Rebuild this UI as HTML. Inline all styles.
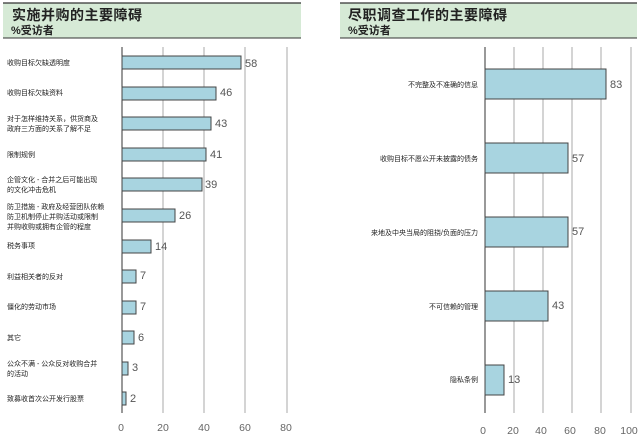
<!DOCTYPE html>
<html><head><meta charset="utf-8"><style>
body{margin:0;width:640px;height:440px;background:#fff;overflow:hidden}
svg text{font-family:"Liberation Sans","Noto Sans CJK SC",sans-serif}
.c{font-family:"Noto Serif CJK SC","Noto Sans CJK SC",serif;font-size:7px;fill:#222}
.v{font-size:11px;fill:#555}
.t{font-size:10.5px;fill:#666}
</style></head><body>
<svg width="640" height="440" xmlns="http://www.w3.org/2000/svg">
<rect x="3" y="3" width="298" height="35" fill="#d6ead6"/>
<line x1="3" y1="3" x2="301" y2="3" stroke="#333" stroke-width="1.2"/>
<line x1="3" y1="38" x2="301" y2="38" stroke="#333" stroke-width="1"/>
<text x="12" y="20" font-family="Noto Serif CJK SC,serif" font-size="14" letter-spacing="0.5" font-weight="bold" fill="#222">实施并购的主要障碍</text>
<text x="11" y="34" font-family="Noto Serif CJK SC,serif" font-size="11" font-weight="bold" fill="#222">%受访者</text>
<rect x="340" y="3" width="297" height="35" fill="#d6ead6"/>
<line x1="340" y1="3" x2="637" y2="3" stroke="#333" stroke-width="1.2"/>
<line x1="340" y1="38" x2="637" y2="38" stroke="#333" stroke-width="1"/>
<text x="348" y="20" font-family="Noto Serif CJK SC,serif" font-size="14" letter-spacing="0.5" font-weight="bold" fill="#222">尽职调查工作的主要障碍</text>
<text x="348" y="34" font-family="Noto Serif CJK SC,serif" font-size="11" font-weight="bold" fill="#222">%受访者</text>
<g stroke="#aaa" stroke-width="1">
<line x1="163" y1="47" x2="163" y2="413"/><line x1="204" y1="47" x2="204" y2="413"/><line x1="245" y1="47" x2="245" y2="413"/><line x1="287" y1="47" x2="287" y2="413"/>
<line x1="514" y1="47" x2="514" y2="413"/><line x1="543" y1="47" x2="543" y2="413"/><line x1="572" y1="47" x2="572" y2="413"/><line x1="601" y1="47" x2="601" y2="413"/><line x1="631" y1="47" x2="631" y2="413"/>
</g>
<line x1="122" y1="47" x2="122" y2="413" stroke="#333"/>
<line x1="485" y1="47" x2="485" y2="413" stroke="#333"/>
<g fill="#a8d4e0" stroke="#444" stroke-width="1">
<rect x="122" y="56" width="119" height="13"/>
<rect x="122" y="87" width="94" height="13"/>
<rect x="122" y="117" width="89" height="13"/>
<rect x="122" y="148" width="84" height="13"/>
<rect x="122" y="178" width="80" height="13"/>
<rect x="122" y="209" width="53" height="13"/>
<rect x="122" y="240" width="29" height="13"/>
<rect x="122" y="270" width="14" height="13"/>
<rect x="122" y="301" width="14" height="13"/>
<rect x="122" y="331" width="12" height="13"/>
<rect x="122" y="362" width="6" height="13"/>
<rect x="122" y="392" width="4" height="13"/>
<rect x="485" y="69" width="121" height="30"/>
<rect x="485" y="143" width="83" height="30"/>
<rect x="485" y="217" width="83" height="30"/>
<rect x="485" y="291" width="63" height="30"/>
<rect x="485" y="365" width="19" height="30"/>
</g>
<g class="v">
<text x="245" y="67" class="v">58</text><text x="220" y="96" class="v">46</text><text x="215" y="127" class="v">43</text><text x="210" y="158" class="v">41</text><text x="205" y="188" class="v">39</text><text x="179" y="219" class="v">26</text><text x="155" y="250" class="v">14</text><text x="140" y="279" class="v">7</text><text x="140" y="310" class="v">7</text><text x="138" y="341" class="v">6</text><text x="132" y="371" class="v">3</text><text x="130" y="402" class="v">2</text>
<text x="610" y="88" class="v">83</text><text x="572" y="162" class="v">57</text><text x="572" y="235" class="v">57</text><text x="552" y="309" class="v">43</text><text x="508" y="383" class="v">13</text>
</g>
<g class="c">
<text x="7" y="65">收购目标欠缺透明度</text>
<text x="7" y="95">收购目标欠缺资料</text>
<text x="7" y="121">对于怎样维持关系，供货商及</text><text x="7" y="131">政府三方面的关系了解不足</text>
<text x="7" y="157">限制规例</text>
<text x="7" y="182">企管文化 - 合并之后可能出现</text><text x="7" y="192">的文化冲击危机</text>
<text x="7" y="209">防卫措施 - 政府及经营团队依赖</text><text x="7" y="219">防卫机制停止并购活动或限制</text><text x="7" y="229">并购收购或拥有企管的程度</text>
<text x="7" y="248">税务事项</text>
<text x="7" y="279">利益相关者的反对</text>
<text x="7" y="309">僵化的劳动市场</text>
<text x="7" y="340">其它</text>
<text x="7" y="366">公众不满 - 公众反对收购合并</text><text x="7" y="376">的活动</text>
<text x="7" y="401">致募收首次公开发行股票</text>
</g>
<g class="c" text-anchor="end">
<text x="478" y="87">不完整及不准确的信息</text>
<text x="478" y="161">收购目标不愿公开未披露的债务</text>
<text x="478" y="235">来地及中央当局的阻挠/负面的压力</text>
<text x="478" y="309">不可信赖的管理</text>
<text x="478" y="382">隐私条例</text>
</g>
<g class="t" text-anchor="middle">
<text x="121" y="431">0</text><text x="163" y="431">20</text><text x="204" y="431">40</text><text x="245" y="431">60</text><text x="286" y="431">80</text>
<text x="483" y="434">0</text><text x="513" y="434">20</text><text x="541" y="434">40</text><text x="570" y="434">60</text><text x="600" y="434">80</text><text x="629" y="434">100</text>
</g>
</svg>
</body></html>
